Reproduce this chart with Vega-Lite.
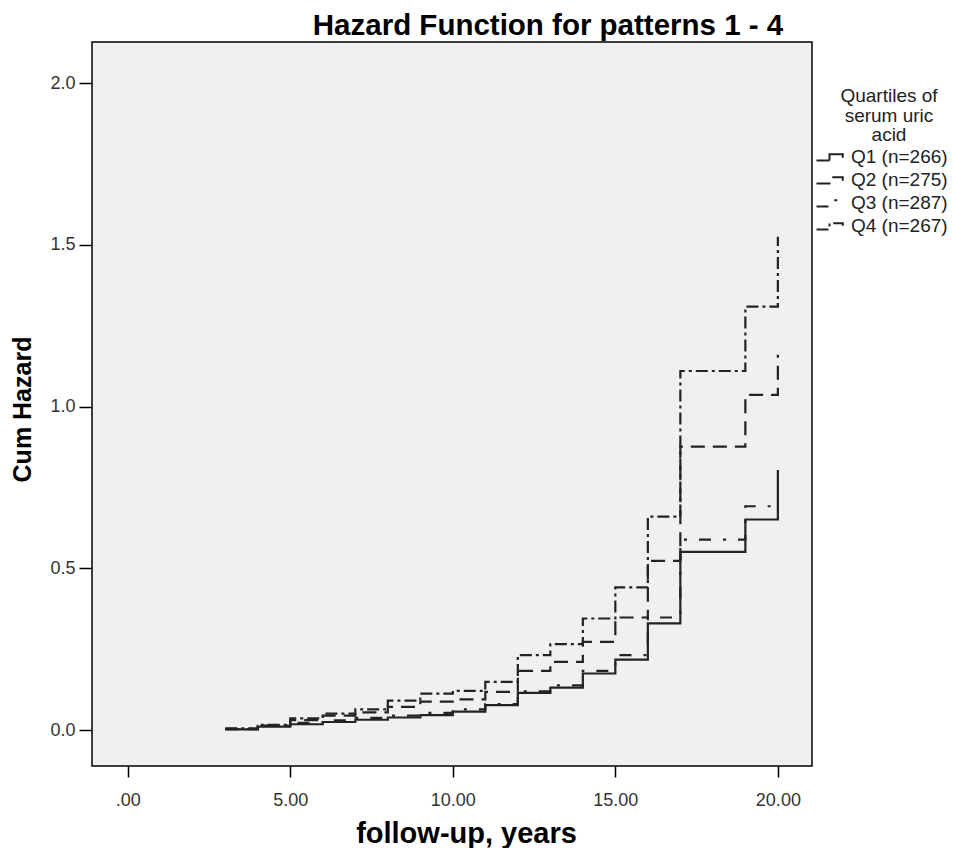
{
  "$schema": "https://vega.github.io/schema/vega-lite/v6.json",
  "autosize": {"type": "none"},
  "width": 720,
  "height": 724,
  "padding": {"left": 92, "top": 42, "right": 141, "bottom": 82},
  "background": "#ffffff",
  "title": {
    "text": "Hazard Function for patterns 1 - 4",
    "font": "Liberation Sans",
    "fontSize": 29.5,
    "fontWeight": "bold",
    "color": "#000000",
    "anchor": "middle",
    "dx": 96,
    "offset": 1
  },
  "config": {
    "view": {"fill": "#f0f0f0", "stroke": "#000000", "strokeWidth": 1.5},
    "axis": {
      "labelFont": "Liberation Sans",
      "labelColor": "#333333",
      "labelFontSize": 18,
      "titleFont": "Liberation Sans",
      "titleFontWeight": "bold",
      "titleColor": "#000000",
      "tickColor": "#000000",
      "tickWidth": 1.5,
      "domain": false,
      "grid": false
    },
    "legend": {
      "labelFont": "Liberation Sans",
      "titleFont": "Liberation Sans",
      "labelColor": "#222222",
      "titleColor": "#222222"
    }
  },
  "data": {
    "values": [
      {"q": "Q1 (n=266)", "t": 3, "h": 0.002},
      {"q": "Q1 (n=266)", "t": 4, "h": 0.011},
      {"q": "Q1 (n=266)", "t": 5, "h": 0.018},
      {"q": "Q1 (n=266)", "t": 6, "h": 0.025},
      {"q": "Q1 (n=266)", "t": 7, "h": 0.032},
      {"q": "Q1 (n=266)", "t": 8, "h": 0.039},
      {"q": "Q1 (n=266)", "t": 9, "h": 0.046},
      {"q": "Q1 (n=266)", "t": 10, "h": 0.057},
      {"q": "Q1 (n=266)", "t": 11, "h": 0.077},
      {"q": "Q1 (n=266)", "t": 12, "h": 0.115},
      {"q": "Q1 (n=266)", "t": 13, "h": 0.131},
      {"q": "Q1 (n=266)", "t": 14, "h": 0.175},
      {"q": "Q1 (n=266)", "t": 15, "h": 0.218},
      {"q": "Q1 (n=266)", "t": 16, "h": 0.33},
      {"q": "Q1 (n=266)", "t": 17, "h": 0.551},
      {"q": "Q1 (n=266)", "t": 19, "h": 0.651},
      {"q": "Q1 (n=266)", "t": 20, "h": 0.804},

      {"q": "Q2 (n=275)", "t": 3, "h": 0.003},
      {"q": "Q2 (n=275)", "t": 4, "h": 0.013},
      {"q": "Q2 (n=275)", "t": 5, "h": 0.031},
      {"q": "Q2 (n=275)", "t": 6, "h": 0.045},
      {"q": "Q2 (n=275)", "t": 7, "h": 0.055},
      {"q": "Q2 (n=275)", "t": 8, "h": 0.072},
      {"q": "Q2 (n=275)", "t": 9, "h": 0.088},
      {"q": "Q2 (n=275)", "t": 10, "h": 0.095},
      {"q": "Q2 (n=275)", "t": 11, "h": 0.118},
      {"q": "Q2 (n=275)", "t": 12, "h": 0.183},
      {"q": "Q2 (n=275)", "t": 13, "h": 0.211},
      {"q": "Q2 (n=275)", "t": 14, "h": 0.273},
      {"q": "Q2 (n=275)", "t": 15, "h": 0.348},
      {"q": "Q2 (n=275)", "t": 16, "h": 0.523},
      {"q": "Q2 (n=275)", "t": 17, "h": 0.876},
      {"q": "Q2 (n=275)", "t": 19, "h": 1.036},
      {"q": "Q2 (n=275)", "t": 20, "h": 1.16},

      {"q": "Q3 (n=287)", "t": 3, "h": 0.004},
      {"q": "Q3 (n=287)", "t": 4, "h": 0.014},
      {"q": "Q3 (n=287)", "t": 5, "h": 0.022},
      {"q": "Q3 (n=287)", "t": 6, "h": 0.03},
      {"q": "Q3 (n=287)", "t": 7, "h": 0.038},
      {"q": "Q3 (n=287)", "t": 8, "h": 0.045},
      {"q": "Q3 (n=287)", "t": 9, "h": 0.053},
      {"q": "Q3 (n=287)", "t": 10, "h": 0.064},
      {"q": "Q3 (n=287)", "t": 11, "h": 0.08},
      {"q": "Q3 (n=287)", "t": 12, "h": 0.12},
      {"q": "Q3 (n=287)", "t": 13, "h": 0.138},
      {"q": "Q3 (n=287)", "t": 14, "h": 0.183},
      {"q": "Q3 (n=287)", "t": 15, "h": 0.232},
      {"q": "Q3 (n=287)", "t": 16, "h": 0.348},
      {"q": "Q3 (n=287)", "t": 17, "h": 0.589},
      {"q": "Q3 (n=287)", "t": 19, "h": 0.692},
      {"q": "Q3 (n=287)", "t": 20, "h": 0.692},

      {"q": "Q4 (n=267)", "t": 3, "h": 0.005},
      {"q": "Q4 (n=267)", "t": 4, "h": 0.016},
      {"q": "Q4 (n=267)", "t": 5, "h": 0.036},
      {"q": "Q4 (n=267)", "t": 6, "h": 0.051},
      {"q": "Q4 (n=267)", "t": 7, "h": 0.064},
      {"q": "Q4 (n=267)", "t": 8, "h": 0.091},
      {"q": "Q4 (n=267)", "t": 9, "h": 0.113},
      {"q": "Q4 (n=267)", "t": 10, "h": 0.121},
      {"q": "Q4 (n=267)", "t": 11, "h": 0.149},
      {"q": "Q4 (n=267)", "t": 12, "h": 0.232},
      {"q": "Q4 (n=267)", "t": 13, "h": 0.266},
      {"q": "Q4 (n=267)", "t": 14, "h": 0.345},
      {"q": "Q4 (n=267)", "t": 15, "h": 0.441},
      {"q": "Q4 (n=267)", "t": 16, "h": 0.66},
      {"q": "Q4 (n=267)", "t": 17, "h": 1.11},
      {"q": "Q4 (n=267)", "t": 19, "h": 1.309},
      {"q": "Q4 (n=267)", "t": 20, "h": 1.525}
    ]
  },
  "mark": {"type": "line", "interpolate": "step-after", "color": "#222222", "strokeWidth": 2.2, "clip": true},
  "encoding": {
    "x": {
      "field": "t",
      "type": "quantitative",
      "scale": {"domain": [-1.1, 21.05], "nice": false, "zero": false},
      "axis": {
        "values": [0, 5, 10, 15, 20],
        "labelExpr": "datum.value == 0 ? '.00' : format(datum.value, '.2f')",
        "tickSize": 11,
        "labelPadding": 14,
        "title": "follow-up, years",
        "titleFontSize": 29,
        "titlePadding": 10,
        "titleX": 374
      }
    },
    "y": {
      "field": "h",
      "type": "quantitative",
      "scale": {"domain": [-0.111, 2.127], "nice": false, "zero": false},
      "axis": {
        "values": [0, 0.5, 1, 1.5, 2],
        "format": ".1f",
        "tickSize": 13,
        "labelPadding": 4,
        "title": "Cum Hazard",
        "titleFontSize": 25,
        "titlePadding": 14,
        "titleY": 367
      }
    },
    "strokeDash": {
      "field": "q",
      "type": "nominal",
      "scale": {
        "domain": ["Q1 (n=266)", "Q2 (n=275)", "Q3 (n=287)", "Q4 (n=267)"],
        "range": [[1, 0], [14, 8], [12, 12, 3, 12], [12, 4, 3, 4]]
      },
      "legend": {
        "title": ["Quartiles of", "serum uric", "acid"],
        "titleFontSize": 19,
        "titleFontWeight": "normal",
        "titleAlign": "center",
        "titleAnchor": "middle",
        "titleLineHeight": 19.5,
        "titlePadding": 2.5,
        "labelFontSize": 19,
        "orient": "none",
        "legendX": 739,
        "legendY": 45,
        "symbolType": "M -4.8 0.7 L -2.2 0.7 L -2.2 -0.55 L 0.45 -0.55 L 0.45 0.15",
        "symbolSize": 100,
        "symbolStrokeWidth": 2,
        "symbolStrokeColor": "#222222",
        "symbolFillColor": "transparent",
        "labelOffset": 1,
        "rowPadding": 3
      }
    }
  }
}
